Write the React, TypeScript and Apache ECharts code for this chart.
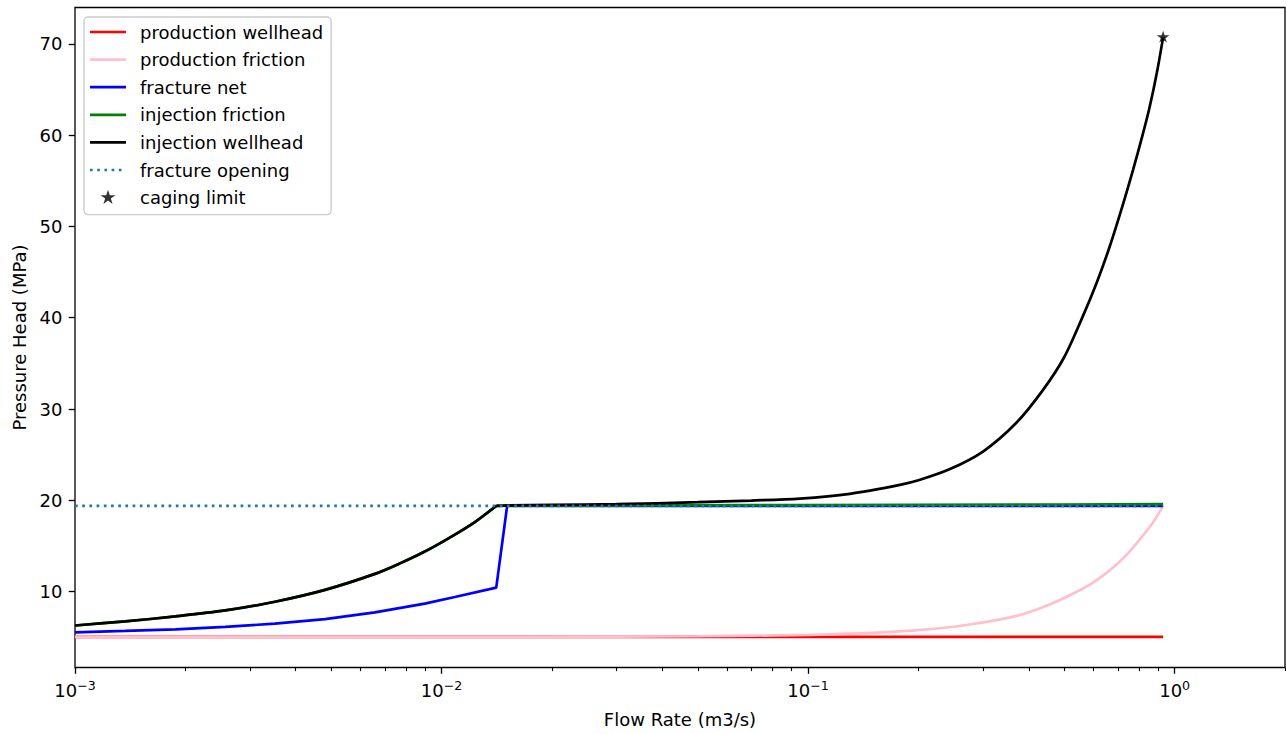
import React, { useEffect, useRef } from 'react';
import * as echarts from 'echarts';

const FONT = 'DejaVu Sans';

// ---- data ----
const seriesNames = [
  'production wellhead',
  'production friction',
  'fracture net',
  'injection friction',
  'injection wellhead',
  'fracture opening',
  'caging limit',
];

const qProdWell = [0.001, 0.93];
const pProdWell = [5.05, 5.05];

const qProdFric = [0.001, 0.01, 0.03, 0.05, 0.1, 0.13, 0.2, 0.27, 0.37, 0.456, 0.5623, 0.62, 0.6934, 0.75, 0.8025, 0.87, 0.93];
const pProdFric = [5.05, 5.06, 5.08, 5.12, 5.27, 5.4, 5.8, 6.35, 7.35, 8.6, 10.35, 11.4, 12.95, 14.3, 15.7, 17.5, 19.4];

const qFracNet = [0.001, 0.00137, 0.00188, 0.00257, 0.00351, 0.00481, 0.00658, 0.009, 0.01087, 0.0141, 0.0151, 0.93];
const pFracNet = [5.55, 5.7, 5.87, 6.15, 6.5, 7.0, 7.74, 8.69, 9.42, 10.45, 19.4, 19.4];

const qInjFric = [0.001, 0.00137, 0.00188, 0.00257, 0.00351, 0.00481, 0.00658, 0.0077, 0.009, 0.0105, 0.0123, 0.0141, 0.0153, 0.1, 0.5, 0.93];
const pInjFric = [6.3, 6.75, 7.3, 7.95, 8.9, 10.2, 11.95, 13.1, 14.4, 15.9, 17.6, 19.4, 19.42, 19.48, 19.55, 19.6];

const qInjWell = [0.001, 0.00137, 0.00188, 0.00257, 0.00351, 0.00481, 0.00658, 0.0077, 0.009, 0.0105, 0.0123, 0.0141, 0.0153, 0.02, 0.03, 0.05, 0.07, 0.095, 0.13, 0.178, 0.2, 0.243, 0.3, 0.37, 0.4375, 0.5, 0.5623, 0.615, 0.665, 0.72, 0.77, 0.815, 0.855, 0.895, 0.93];
const pInjWell = [6.3, 6.75, 7.3, 7.95, 8.9, 10.2, 11.95, 13.1, 14.4, 15.9, 17.6, 19.4, 19.45, 19.5, 19.58, 19.8, 19.98, 20.2, 20.72, 21.7, 22.2, 23.4, 25.35, 28.5, 32.1, 35.7, 40.2, 44.0, 47.8, 52.2, 56.2, 59.8, 63.1, 66.9, 70.7];

// index of the kink where the fracture opens (q = 0.0141)
const KINK = 11;

const qFracOpen = [0.001, 0.93];
const pFracOpen = [19.4, 19.4];

const qCaging = [0.93];
const pCaging = [70.7];

const xMajorTicks = [0.001, 0.01, 0.1, 1];
const xMinorTicks = [
  0.002, 0.003, 0.004, 0.005, 0.006, 0.007, 0.008, 0.009,
  0.02, 0.03, 0.04, 0.05, 0.06, 0.07, 0.08, 0.09,
  0.2, 0.3, 0.4, 0.5, 0.6, 0.7, 0.8, 0.9,
  2,
];
const yTicks = [10, 20, 30, 40, 50, 60, 70];

const X_MIN = 0.001;
const X_MAX = 2;
const Y_MIN = 1.7;
const Y_MAX = 73.97;

const STAR = 'M0 -10 L2.245 -3.09 L9.51 -3.09 L3.63 1.18 L5.88 8.09 L0 3.82 L-5.88 8.09 L-3.63 1.18 L-9.51 -3.09 L-2.245 -3.09 Z';
const starSeriesPath = 'path://M-10 -10 M10 10 ' + STAR;
const starLegendPath = 'path://M-11.5 -11.5 M11.5 11.5 ' + STAR;
const solidLegendPath = 'path://M0 0 L36 0 L36 2.7 L0 2.7 Z';
const dottedLegendPath =
  'path://M0 0 L2.7 0 L2.7 2.7 L0 2.7 Z M7.2 0 L9.9 0 L9.9 2.7 L7.2 2.7 Z M14.4 0 L17.1 0 L17.1 2.7 L14.4 2.7 Z M21.6 0 L24.3 0 L24.3 2.7 L21.6 2.7 Z M28.8 0 L31.5 0 L31.5 2.7 L28.8 2.7 Z M36 0';

const zip = (xs: number[], ys: number[]) => xs.map((x, i) => [x, ys[i]]);

const LW = 2.7;

function lineSeries(name: string, data: number[][], color: string, extra: any = {}) {
  return {
    name,
    type: 'line',
    data,
    symbol: 'none',
    showSymbol: false,
    smooth: extra.smooth || false,
    lineStyle: { color, width: LW, ...(extra.lineStyle || {}) },
    itemStyle: { color },
    emphasis: { disabled: true },
    silent: true,
    clip: true,
  };
}

function supLabel(v: number) {
  const e = Math.round(Math.log10(v));
  const s = e < 0 ? '\u2212' + Math.abs(e) : String(e);
  return '{b|10}{s|' + s + '}';
}

export default function App() {
  const ref = useRef<HTMLDivElement>(null);
  useEffect(() => {
    const chart = echarts.init(ref.current as HTMLDivElement, null, { renderer: 'svg' });
    const injFric = zip(qInjFric, pInjFric);
    const injWell = zip(qInjWell, pInjWell);
    const option: any = {
      animation: false,
      textStyle: { fontFamily: FONT },
      grid: {
        left: 75,
        right: 1,
        top: 7.5,
        bottom: 66.5,
        show: true,
        borderColor: '#000',
        borderWidth: 1.3,
        backgroundColor: 'transparent',
      },
      legend: {
        orient: 'vertical',
        left: 84,
        top: 17,
        padding: [6, 8, 8, 6],
        itemWidth: 36,
        itemHeight: 18,
        itemGap: 9.6,
        backgroundColor: 'rgba(255,255,255,0.8)',
        borderColor: '#cccccc',
        borderWidth: 1.4,
        borderRadius: 4,
        selectedMode: false,
        textStyle: { fontFamily: FONT, fontSize: 18, color: '#000', lineHeight: 18, padding: [0, 0, 0, 9] },
        data: [
          { name: seriesNames[0], icon: solidLegendPath },
          { name: seriesNames[1], icon: solidLegendPath },
          { name: seriesNames[2], icon: solidLegendPath },
          { name: seriesNames[3], icon: solidLegendPath },
          { name: seriesNames[4], icon: solidLegendPath },
          { name: seriesNames[5], icon: dottedLegendPath },
          { name: seriesNames[6], icon: starLegendPath },
        ],
      },
      xAxis: [
        {
          type: 'log',
          logBase: 10,
          min: X_MIN,
          max: X_MAX,
          position: 'bottom',
          axisLine: { show: false },
          splitLine: { show: false },
          minorTick: { show: false },
          axisTick: {
            show: true,
            inside: false,
            length: 6.3,
            lineStyle: { color: '#000', width: 1.3 },
            customValues: xMajorTicks,
          },
          axisLabel: {
            show: true,
            customValues: xMajorTicks,
            margin: 11,
            formatter: (v: number) => supLabel(v),
            rich: {
              b: { fontFamily: FONT, fontSize: 18, lineHeight: 21, verticalAlign: 'bottom', color: '#000' },
              s: { fontFamily: FONT, fontSize: 12.6, lineHeight: 12, verticalAlign: 'top', color: '#000' },
            },
          },
          name: 'Flow Rate (m3/s)',
          nameLocation: 'middle',
          nameGap: 43,
          nameTextStyle: { fontFamily: FONT, fontSize: 18, color: '#000' },
        },
        {
          type: 'log',
          logBase: 10,
          min: X_MIN,
          max: X_MAX,
          position: 'bottom',
          axisLine: { show: false },
          splitLine: { show: false },
          axisLabel: { show: false },
          axisTick: {
            show: true,
            inside: false,
            length: 3.6,
            lineStyle: { color: '#000', width: 1.08 },
            customValues: xMinorTicks,
          },
        },
      ],
      yAxis: {
        type: 'value',
        min: Y_MIN,
        max: Y_MAX,
        axisLine: { show: false },
        splitLine: { show: false },
        axisTick: {
          show: true,
          inside: false,
          length: 6.3,
          lineStyle: { color: '#000', width: 1.3 },
          customValues: yTicks,
        },
        axisLabel: {
          customValues: yTicks,
          margin: 12.6,
          fontFamily: FONT,
          fontSize: 18,
          color: '#000',
        },
        name: 'Pressure Head (MPa)',
        nameLocation: 'middle',
        nameGap: 44,
        nameRotate: 90,
        nameTextStyle: { fontFamily: FONT, fontSize: 18, color: '#000' },
      },
      series: [
        lineSeries(seriesNames[0], zip(qProdWell, pProdWell), '#ff0000'),
        lineSeries(seriesNames[1], zip(qProdFric, pProdFric), '#ffc0cb', { smooth: 0.3 }),
        lineSeries(seriesNames[2], zip(qFracNet, pFracNet), '#0000ff'),
        lineSeries(seriesNames[3], injFric.slice(0, KINK + 1), '#008000', { smooth: 0.3 }),
        lineSeries(seriesNames[3], injFric.slice(KINK), '#008000'),
        lineSeries(seriesNames[4], injWell.slice(0, KINK + 1), '#000000', { smooth: 0.3 }),
        lineSeries(seriesNames[4], injWell.slice(KINK), '#000000', { smooth: 0.3 }),
        lineSeries(seriesNames[5], zip(qFracOpen, pFracOpen), '#1f77b4', {
          lineStyle: { type: [2.7, 4.5], cap: 'butt' },
        }),
        {
          name: seriesNames[6],
          type: 'scatter',
          data: zip(qCaging, pCaging),
          symbol: starSeriesPath,
          symbolSize: 13,
          itemStyle: { color: '#000' },
          silent: true,
          z: 3,
        },
      ],
    };
    chart.setOption(option);
    return () => chart.dispose();
  }, []);
  return (
    <div
      ref={ref}
      style={{ position: 'absolute', left: 0, top: 0, width: 1286, height: 734 }}
    />
  );
}
